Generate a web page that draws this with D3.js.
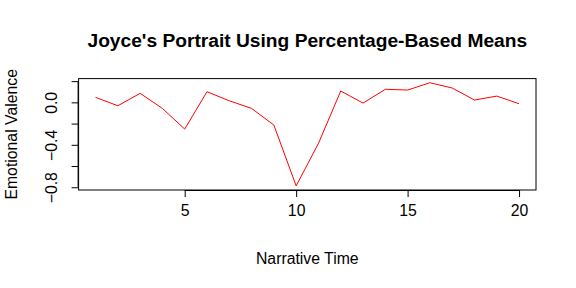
<!DOCTYPE html>
<html>
<head>
<meta charset="utf-8">
<script src="https://cdn.jsdelivr.net/npm/d3@7"></script>
<style>
  body { margin: 0; background: white; }
  text { font-family: "Liberation Sans", Arial, sans-serif; fill: black; }
</style>
</head>
<body>
<div id="chart"></div>
<script>
// narrative time points and emotional valence values
var times = [1, 2, 3, 4, 5, 6, 7, 8, 9, 10, 11, 12, 13, 14, 15, 16, 17, 18, 19, 20];
var valence = [0.047, -0.032, 0.085, -0.057, -0.252, 0.10, 0.015, -0.057, -0.214, -0.787,
    -0.387, 0.107, -0.007, 0.123, 0.116, 0.185, 0.135, 0.022, 0.059, -0.013];
var xTicks = [5, 10, 15, 20];
var yTicks = [0.2, 0.0, -0.2, -0.4, -0.6, -0.8];
var yLabels = [0.0, -0.4, -0.8];

var width = 576, height = 288;
var margin = { top: 78.6, right: 40, bottom: 98, left: 78.6 };
var fontSize = 15.8;

var svg = d3.select("#chart")
    .append("svg")
    .attr("width", width)
    .attr("height", height);

// R style 4% padding on both axes
var xPad = (d3.max(times) - d3.min(times)) * 0.04;
var yPad = (d3.max(valence) - d3.min(valence)) * 0.04;

var x = d3.scaleLinear()
    .domain([d3.min(times) - xPad, d3.max(times) + xPad])
    .range([margin.left, width - margin.right]);

var y = d3.scaleLinear()
    .domain([d3.min(valence) - yPad, d3.max(valence) + yPad])
    .range([height - margin.bottom, margin.top]);

// box
svg.append("rect")
    .attr("x", x.range()[0])
    .attr("y", y.range()[1])
    .attr("width", x.range()[1] - x.range()[0])
    .attr("height", y.range()[0] - y.range()[1])
    .attr("fill", "none")
    .attr("stroke", "black")
    .attr("stroke-width", 1);

// x axis
var xAxis = svg.append("g")
    .attr("transform", "translate(0," + y.range()[0] + ")")
    .call(d3.axisBottom(x).tickValues(xTicks).tickSize(7).tickPadding(8).tickSizeOuter(0));
xAxis.select(".domain")
    .attr("d", "M" + x(xTicks[0]) + ",0.5H" + x(xTicks[xTicks.length - 1]));
xAxis.selectAll("text").attr("font-size", fontSize).attr("font-family", "Liberation Sans, Arial, sans-serif");

// y axis
var yAxis = svg.append("g")
    .attr("transform", "translate(" + x.range()[0] + ",0)")
    .call(d3.axisLeft(y).tickValues(yTicks).tickSize(7).tickSizeOuter(0)
        .tickFormat(function (d) { return yLabels.indexOf(d) >= 0 ? d3.format(".1f")(d) : ""; }));
yAxis.select(".domain")
    .attr("d", "M-0.5," + y(yTicks[0]) + "V" + y(yTicks[yTicks.length - 1]));
yAxis.selectAll("text")
    .attr("font-size", fontSize)
    .attr("font-family", "Liberation Sans, Arial, sans-serif")
    .attr("x", 0)
    .attr("dy", 0)
    .attr("text-anchor", "middle")
    .attr("transform", "translate(-22,0) rotate(-90)");

// line
var line = d3.line()
    .x(function (d, i) { return x(times[i]); })
    .y(function (d) { return y(d); });

svg.append("path")
    .datum(valence)
    .attr("d", line)
    .attr("fill", "none")
    .attr("stroke", "red")
    .attr("stroke-width", 1);

// title and labels
svg.append("text")
    .attr("x", (x.range()[0] + x.range()[1]) / 2)
    .attr("y", 47)
    .attr("text-anchor", "middle")
    .attr("font-size", 19.2)
    .attr("font-weight", "bold")
    .text("Joyce's Portrait Using Percentage-Based Means");

svg.append("text")
    .attr("x", (x.range()[0] + x.range()[1]) / 2)
    .attr("y", 264)
    .attr("text-anchor", "middle")
    .attr("font-size", fontSize)
    .text("Narrative Time");

svg.append("text")
    .attr("transform", "translate(17," + (y.range()[0] + y.range()[1]) / 2 + ") rotate(-90)")
    .attr("text-anchor", "middle")
    .attr("font-size", fontSize)
    .text("Emotional Valence");
</script>
</body>
</html>
